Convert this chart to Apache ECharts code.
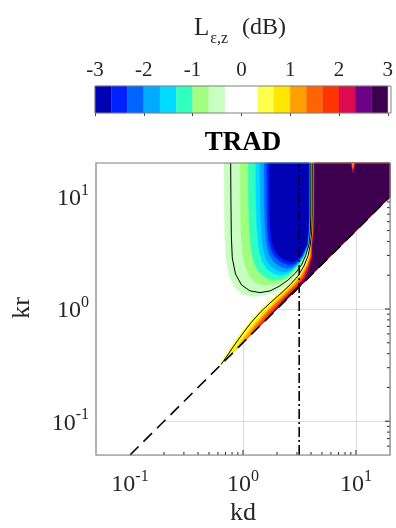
<!DOCTYPE html>
<html><head><meta charset="utf-8">
<script src="https://cdn.jsdelivr.net/npm/echarts@6/dist/echarts.min.js"></script>
<style>html,body{margin:0;padding:0;background:#fff}#c{width:396px;height:528px}</style>
</head><body><div id="c"></div>
<script>
const SERIF = "'Liberation Serif','DejaVu Serif',serif";

// ---- colour scale (L_eps,z in dB) ----
const cbEdges = [-3,-2.667,-2.333,-2,-1.667,-1.333,-1,-0.667,-0.333,0,0.333,0.667,1,1.333,1.667,2,2.333,2.667,3];
const cbColors = ['#0000b5','#0020ff','#0066ff','#00aaff','#00dcff','#30ffc0','#a0ff80','#c8ffc0','#ffffff',
                  '#ffffff','#ffff4c','#ffe600','#ffa000','#ff6400','#ff3400','#dc0b4f','#6c0086','#3c004f'];
const cbTicks = [-3,-2,-1,0,1,2,3];

// ---- axis ticks (kd, kr) ----
const axisMajor = [0.1, 1, 10];
const axisMinor = [0.06,0.07,0.08,0.09,0.2,0.3,0.4,0.5,0.6,0.7,0.8,0.9,2,3,4,5,6,7,8,9];

// ---- region where the level is defined: kr above kd/2 ----
const domain = [[0.05,0.05],[0.1,0.05],[20,10],[20,20],[0.05,20]];
const diagLine = [[0.1,0.05],[20,10]];        // kr = kd/2
const piLine = [[3.1416,0.05],[3.1416,20]];   // kd = pi

// ---- negative-level regions [kd, kr] (outer edge of each filled level) ----
const bandPG = [[0.679,20],[0.682,9.37],[0.690,4.57],[0.707,2.85],[0.752,1.97],[0.850,1.54],[1.0,1.35],[1.201,1.29],[1.473,1.31],[1.806,1.38],[2.169,1.49],[2.606,1.69],[3.036,2.01],[3.396,2.42],[3.647,2.97],[3.862,3.72],[3.973,4.86],[4.014,6.88],[4.022,20]];
const bandLG = [[0.941,20],[0.945,9.37],[0.956,5.06],[0.986,3.22],[1.042,2.42],[1.153,1.93],[1.330,1.69],[1.565,1.62],[1.881,1.65],[2.214,1.74],[2.554,1.91],[2.856,2.14],[3.227,2.47],[3.523,2.97],[3.806,3.72],[3.917,4.86],[3.957,6.88],[3.966,20]];
const bandAQ = [[1.114,20],[1.118,9.37],[1.137,5.27],[1.177,3.36],[1.251,2.57],[1.385,2.14],[1.597,1.89],[1.881,1.80],[2.214,1.83],[2.502,1.97],[2.798,2.18],[3.162,2.52],[3.487,2.97],[3.783,3.72],[3.894,4.86],[3.933,6.88],[3.941,20]];
const bandCY = [[1.296,20],[1.303,9.37],[1.322,5.61],[1.371,3.57],[1.473,2.68],[1.631,2.27],[1.881,2.05],[2.169,1.99],[2.452,2.05],[2.742,2.23],[3.098,2.52],[3.452,2.97],[3.760,3.72],[3.870,4.86],[3.909,6.88],[3.917,20]];
const bandAZ = [[1.414,20],[1.423,9.37],[1.443,5.61],[1.488,3.72],[1.581,2.85],[1.734,2.45],[2.000,2.20],[2.306,2.14],[2.606,2.20],[2.886,2.37],[3.130,2.60],[3.417,2.97],[3.737,3.72],[3.846,4.86],[3.886,6.88],[3.894,20]];
const bandMB = [[1.534,20],[1.543,9.37],[1.565,5.61],[1.614,3.88],[1.699,3.09],[1.862,2.65],[2.125,2.40],[2.452,2.30],[2.742,2.37],[2.975,2.52],[3.194,2.73],[3.382,2.97],[3.715,3.72],[3.822,4.86],[3.862,6.88],[3.870,20]];
const bandBL = [[1.620,20],[1.631,9.37],[1.647,5.61],[1.699,3.95],[1.787,3.29],[1.959,2.85],[2.214,2.60],[2.554,2.47],[2.856,2.52],[3.098,2.71],[3.348,3.00],[3.692,3.72],[3.799,4.86],[3.838,6.88],[3.846,20]];
const bandDB = [[1.709,20],[1.716,9.37],[1.734,5.61],[1.787,4.12],[1.881,3.43],[2.062,3.00],[2.329,2.73],[2.660,2.62],[2.944,2.71],[3.194,2.91],[3.431,3.29],[3.669,3.72],[3.776,4.86],[3.814,6.88],[3.822,20]];

// ---- positive-level regions: left edge from top down to the kr = kd/2 line ----
const edgeY  = [[4.130,20],[4.122,6.88],[4.080,4.86],[3.966,3.72],[3.799,2.97],[3.501,2.42],[3.098,2.01],[2.660,1.72],[2.214,1.46],[1.806,1.24],[1.503,1.04],[1.251,0.857],[1.042,0.691],[0.867,0.540],[0.737,0.422],[0.652,0.344],[0.613,0.3065]];
const edgeG  = [[4.156,20],[4.147,6.88],[4.105,4.86],[3.990,3.72],[3.862,2.97],[3.573,2.42],[3.194,2.01],[2.714,1.67],[2.214,1.38],[1.806,1.13],[1.473,0.911],[1.201,0.720],[0.980,0.551],[0.799,0.418],[0.707,0.3535]];
const edgeO  = [[4.181,20],[4.173,6.88],[4.130,4.86],[4.014,3.72],[3.917,2.97],[3.647,2.42],[3.260,1.99],[2.827,1.67],[2.353,1.39],[1.920,1.14],[1.565,0.921],[1.277,0.728],[1.042,0.563],[0.867,0.4335]];
const edgeDO = [[4.207,20],[4.198,6.88],[4.156,4.86],[4.039,3.72],[3.966,2.97],[3.708,2.42],[3.327,1.95],[2.886,1.64],[2.353,1.33],[1.920,1.10],[1.565,0.884],[1.277,0.691],[1.042,0.521]];
const edgeR  = [[4.232,20],[4.224,6.88],[4.181,4.86],[4.063,3.72],[4.014,2.97],[3.760,2.42],[3.396,1.93],[2.944,1.62],[2.554,1.41],[2.125,1.17],[1.734,0.94],[1.414,0.735],[1.201,0.6005]];
const edgeC  = [[4.258,20],[4.250,6.88],[4.207,4.86],[4.088,3.72],[4.063,2.97],[3.814,2.42],[3.466,1.91],[3.005,1.59],[2.606,1.36],[2.125,1.11],[1.734,0.893],[1.414,0.707]];
const edgeP  = [[4.285,20],[4.276,6.88],[4.232,4.86],[4.114,3.72],[4.105,2.97],[3.878,2.37],[3.537,1.89],[3.067,1.60],[2.502,1.32],[2.040,1.06],[1.664,0.832]];
const edgeDP = [[4.320,20],[4.311,6.88],[4.267,4.86],[4.147,3.72],[4.147,2.97],[3.941,2.32],[3.610,1.87],[3.130,1.60],[2.606,1.35],[2.259,1.15],[2.040,1.020]];
const domainCorner = [[20,10],[20,20]];

// small resonance streak near kd = 3*pi at the top
const spikeOuter = [[9.03,20],[9.80,20],[9.42,16.3]];
const spikeInner = [[9.21,20],[9.61,20],[9.42,17.8]];

// ---- contour lines ----
const lineNeg = [[0.778,20],[0.782,9.37],[0.788,4.57],[0.804,2.85],[0.858,2.05],[0.970,1.64],[1.153,1.45],[1.414,1.40],[1.734,1.45],[2.083,1.59],[2.502,1.81],[2.915,2.09],[3.293,2.47],[3.573,2.97],[3.830,3.72],[3.941,4.86],[3.981,6.88],[3.990,20]];
const linePos = [[4.105,20],[4.097,6.88],[4.055,4.86],[3.941,3.72],[3.760,2.97],[3.466,2.42],[3.067,1.97],[2.606,1.64],[2.169,1.38],[1.769,1.15],[1.443,0.95],[1.177,0.755],[0.980,0.592],[0.816,0.458],[0.707,0.3695],[0.639,0.320]];

const series = [];
let zc = 2;
function polySeries(pts, color) {
  series.push({
    type: 'custom', xAxisIndex: 0, yAxisIndex: 0, silent: true, animation: false, z: zc++,
    data: [pts[0]],
    renderItem: (p, api) => ({
      type: 'polygon',
      shape: { points: pts.map(q => api.coord(q)) },
      style: { fill: color, stroke: color, lineWidth: 0.4 }
    })
  });
}
function lineSeries(pts, width, dash) {
  series.push({
    type: 'custom', xAxisIndex: 0, yAxisIndex: 0, silent: true, animation: false, z: zc++,
    data: [pts[0]],
    renderItem: (p, api) => ({
      type: 'polyline',
      shape: { points: pts.map(q => api.coord(q)) },
      style: { fill: 'none', stroke: '#000', lineWidth: width, lineDash: dash || null }
    })
  });
}

// ticks (under the filled domain, like MATLAB's bottom layer)
series.push({
  type: 'custom', xAxisIndex: 0, yAxisIndex: 0, silent: true, animation: false, z: 1,
  data: [[1, 1]],
  renderItem: (p, api) => {
    const ch = [];
    const add = (v, len) => {
      const b = api.coord([v, 0.05]), t = api.coord([v, 20]);
      ch.push({type:'line', shape:{x1:b[0],y1:b[1],x2:b[0],y2:b[1]-len}, style:{stroke:'#262626',lineWidth:1}});
      ch.push({type:'line', shape:{x1:t[0],y1:t[1],x2:t[0],y2:t[1]+len}, style:{stroke:'#262626',lineWidth:1}});
      const l = api.coord([0.05, v]), r = api.coord([20, v]);
      ch.push({type:'line', shape:{x1:l[0],y1:l[1],x2:l[0]+len,y2:l[1]}, style:{stroke:'#262626',lineWidth:1}});
      ch.push({type:'line', shape:{x1:r[0],y1:r[1],x2:r[0]-len,y2:r[1]}, style:{stroke:'#262626',lineWidth:1}});
    };
    axisMajor.forEach(v => add(v, 5));
    axisMinor.forEach(v => add(v, 3));
    return {type: 'group', children: ch};
  }
});

polySeries(domain, '#ffffff');
const negBands = [[bandPG,7],[bandLG,6],[bandAQ,5],[bandCY,4],[bandAZ,3],[bandMB,2],[bandBL,1],[bandDB,0]];
negBands.forEach(([b, i]) => polySeries(b, cbColors[i]));
const posBands = [[edgeY,10],[edgeG,11],[edgeO,12],[edgeDO,13],[edgeR,14],[edgeC,15],[edgeP,16],[edgeDP,17]];
posBands.forEach(([e, i]) => polySeries(e.concat(domainCorner), cbColors[i]));
polySeries(spikeOuter, cbColors[15]);
polySeries(spikeInner, cbColors[12]);
lineSeries(lineNeg, 1);
lineSeries(linePos, 1);
lineSeries(diagLine, 1.6, [12, 7]);
lineSeries(piLine, 1.6, [10, 3, 2, 3]);

// colour bar cells
series.push({
  type: 'custom', xAxisIndex: 1, yAxisIndex: 1, silent: true, animation: false, z: 2,
  data: cbColors.map((c, i) => [cbEdges[i], cbEdges[i + 1]]),
  encode: { x: [0, 1] },
  renderItem: (p, api) => {
    const a = api.coord([api.value(0), 1]), b = api.coord([api.value(1), 0]);
    return { type: 'rect', shape: { x: a[0], y: a[1], width: b[0] - a[0], height: b[1] - a[1] },
             style: { fill: cbColors[p.dataIndex], stroke: cbColors[p.dataIndex], lineWidth: 0.3 } };
  }
});

const powLabel = v => {
  const lg = Math.log10(v), e = Math.round(lg);
  if (Math.abs(lg - e) > 1e-6) return '';
  return '{b|10}{s|' + e + '}';
};
const powRich = {
  b: { fontFamily: SERIF, fontSize: 24, color: '#262626', lineHeight: 28, verticalAlign: 'bottom' },
  s: { fontFamily: SERIF, fontSize: 16, color: '#262626', lineHeight: 12, verticalAlign: 'top' }
};

const option = {
  backgroundColor: '#ffffff',
  animation: false,
  grid: [
    { left: 96, top: 163, width: 294, height: 292 },
    { left: 95, top: 86, width: 296, height: 27 }
  ],
  xAxis: [
    { type: 'log', logBase: 10, gridIndex: 0, min: 0.05, max: 20,
      axisLine: { show: false }, axisTick: { show: false },
      splitLine: { show: true, lineStyle: { color: '#dcdcdc', width: 1 } },
      axisLabel: { margin: 14, formatter: powLabel, rich: powRich, showMinLabel: false, showMaxLabel: false } },
    { type: 'value', gridIndex: 1, min: -3, max: 3, interval: 1, position: 'top', z: 10,
      axisLine: { show: false }, splitLine: { show: false },
      axisTick: { show: true, inside: true, length: 3, lineStyle: { color: '#444', width: 1 } },
      axisLabel: { margin: 5, fontFamily: SERIF, fontSize: 21, color: '#262626', formatter: v => String(v) } }
  ],
  yAxis: [
    { type: 'log', logBase: 10, gridIndex: 0, min: 0.05, max: 20,
      axisLine: { show: false }, axisTick: { show: false },
      splitLine: { show: true, lineStyle: { color: '#dcdcdc', width: 1 } },
      axisLabel: { margin: 7, formatter: powLabel, rich: powRich, showMinLabel: false, showMaxLabel: false } },
    { type: 'value', gridIndex: 1, min: 0, max: 1, show: false }
  ],
  graphic: [
    { type: 'rect', z: 100, silent: true, shape: { x: 96, y: 163, width: 294, height: 292 },
      style: { fill: 'none', stroke: '#808080', lineWidth: 1.2 } },
    { type: 'rect', z: 100, silent: true, shape: { x: 95, y: 86, width: 296, height: 27 },
      style: { fill: 'none', stroke: '#808080', lineWidth: 1 } },
    { type: 'text', z: 100, x: 240, y: 30, silent: true,
      style: { text: '{a|L}{b|ε,z}{c|(dB)}', align: 'center', verticalAlign: 'middle',
        rich: {
          a: { fontFamily: SERIF, fontSize: 25, fill: '#262626', lineHeight: 28, verticalAlign: 'top' },
          b: { fontFamily: SERIF, fontSize: 16, fill: '#262626', lineHeight: 16, padding: [15, 0, 0, 1], verticalAlign: 'top' },
          c: { fontFamily: SERIF, fontSize: 24, fill: '#262626', lineHeight: 28, padding: [0, 0, 0, 14], verticalAlign: 'top' }
        } } },
    { type: 'text', z: 100, x: 243, y: 143, silent: true,
      style: { text: 'TRAD', font: 'bold 27px ' + SERIF, fill: '#000', align: 'center', verticalAlign: 'middle' } },
    { type: 'text', z: 100, x: 243, y: 513, silent: true,
      style: { text: 'kd', font: '26px ' + SERIF, fill: '#262626', align: 'center', verticalAlign: 'middle' } },
    { type: 'text', z: 100, x: 22, y: 308, rotation: Math.PI / 2, silent: true,
      style: { text: 'kr', font: '26px ' + SERIF, fill: '#262626', align: 'center', verticalAlign: 'middle' } }
  ],
  series: series
};
const chart = echarts.init(document.getElementById('c'));
chart.setOption(option);
</script>
</body></html>
